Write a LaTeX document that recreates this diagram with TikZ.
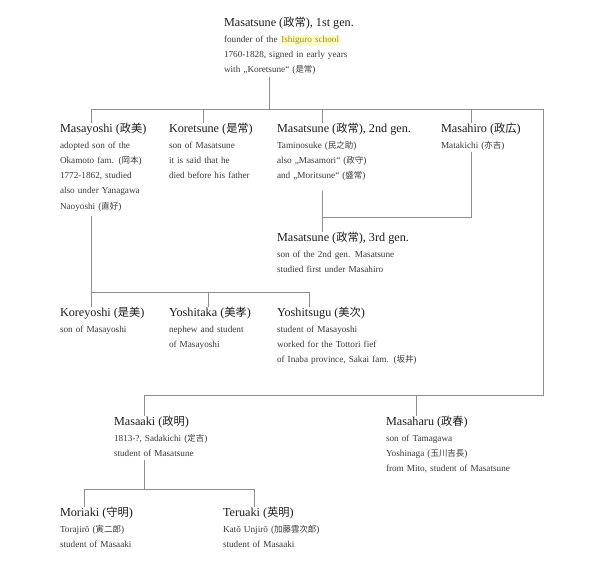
\documentclass[tikz,border=0pt]{standalone}
\usepackage{fontspec}
\setmainfont{Liberation Serif}
\newfontfamily\cjkfont[Scale=0.92]{Noto Sans CJK JP}
\newcommand\jpn[1]{{\cjkfont #1}}
\definecolor{linec}{HTML}{8E8E8E}
\definecolor{titlec}{HTML}{1E1E1E}
\definecolor{bodyc}{HTML}{3A3A3A}
\definecolor{hlback}{HTML}{FFFFC4}
\definecolor{hltext}{HTML}{9A8A22}
\newcommand\bodyf{\fontsize{9.2pt}{15.3pt}\selectfont}
\newcommand\ttl[1]{\leavevmode{\fontsize{12.2pt}{15.3pt}\selectfont\color{titlec}#1}\\[0.7pt]}
\newcommand\hlite[1]{{\setlength{\fboxsep}{0.6pt}\colorbox{hlback}{\textcolor{hltext}{#1}}}}
\tikzset{
  person/.style={anchor=base west, inner sep=0pt, outer sep=0pt, text width=190pt,
    align=left, font=\bodyf, text=bodyc},
  link/.style={draw=linec, line width=0.75pt}
}
\begin{document}
\begin{tikzpicture}[x=1pt,y=-1pt]
\useasboundingbox[fill=white] (0,0) rectangle (600,576);

\node[person] (top) at (224,26) {\ttl{Masatsune (\jpn{政常}), 1st gen.}
founder of the \hlite{Ishiguro school}\\
1760-1828, signed in early years\\
with „Koretsune“ (\jpn{是常})};

\node[person] (masayoshi) at (60,132) {\ttl{Masayoshi (\jpn{政美})}
adopted son of the\\
Okamoto fam. (\jpn{岡本})\\
1772-1862, studied\\
also under Yanagawa\\
Naoyoshi (\jpn{直好})};

\node[person] (koretsune) at (169,132) {\ttl{Koretsune (\jpn{是常})}
son of Masatsune\\
it is said that he\\
died before his father};

\node[person] (masatsune2) at (277,132) {\ttl{Masatsune (\jpn{政常}), 2nd gen.}
Taminosuke (\jpn{民之助})\\
also „Masamori“ (\jpn{政守})\\
and „Moritsune“ (\jpn{盛常})};

\node[person] (masahiro) at (441,132) {\ttl{Masahiro (\jpn{政広})}
Matakichi (\jpn{亦吉})};

\node[person] (masatsune3) at (277,241) {\ttl{Masatsune (\jpn{政常}), 3rd gen.}
son of the 2nd gen. Masatsune\\
studied first under Masahiro};

\node[person] (koreyoshi) at (60,316) {\ttl{Koreyoshi (\jpn{是美})}
son of Masayoshi};

\node[person] (yoshitaka) at (169,316) {\ttl{Yoshitaka (\jpn{美孝})}
nephew and student\\
of Masayoshi};

\node[person] (yoshitsugu) at (277,316) {\ttl{Yoshitsugu (\jpn{美次})}
student of Masayoshi\\
worked for the Tottori fief\\
of Inaba province, Sakai fam. (\jpn{坂井})};

\node[person] (masaaki) at (114,425) {\ttl{Masaaki (\jpn{政明})}
1813-?, Sadakichi (\jpn{定吉})\\
student of Masatsune};

\node[person] (masaharu) at (386,425) {\ttl{Masaharu (\jpn{政春})}
son of Tamagawa\\
Yoshinaga (\jpn{玉川吉長})\\
from Mito, student of Masatsune};

\node[person] (moriaki) at (60,516) {\ttl{Moriaki (\jpn{守明})}
Torajirō (\jpn{寅二郎})\\
student of Masaaki};

\node[person] (teruaki) at (223,516) {\ttl{Teruaki (\jpn{英明})}
Katō Unjirō (\jpn{加藤雲次郎})\\
student of Masaaki};

% junction points
\coordinate (t0) at (269,109);
\coordinate (bl) at (91,109);
\coordinate (br) at (543,109);
\coordinate (dk) at (203,109);
\coordinate (dm) at (322,109);
\coordinate (dh) at (471,109);
\coordinate (j1) at (322,217);
\coordinate (h1) at (471,217);
\coordinate (b2l) at (91,292);
\coordinate (b2m) at (208,292);
\coordinate (b2r) at (309,292);
\coordinate (rc) at (543,395);
\coordinate (b3l) at (144,395);
\coordinate (b3m) at (416,395);
\coordinate (b4l) at (84,489);
\coordinate (b4m) at (144,489);
\coordinate (b4r) at (254,489);

\draw[link, shorten <=2pt] (top.south -| t0) -- (t0);
\draw[link] (masayoshi.north -| bl) -- (bl) -- (br) -- (rc) -- (b3l) -- (masaaki.north -| b3l);
\draw[link] (koretsune.north -| dk) -- (dk);
\draw[link] (masatsune2.north -| dm) -- (dm);
\draw[link] (masahiro.north -| dh) -- (dh);
\draw[link, shorten <=10pt] (masatsune2.south -| j1) -- (masatsune3.north -| j1);
\draw[link, shorten <=2pt] (masahiro.south -| h1) -- (h1) -- (j1);
\draw[link, shorten <=5pt] (masayoshi.south -| b2l) -- (koreyoshi.north -| b2l);
\draw[link] (b2l) -- (b2r) -- (yoshitsugu.north -| b2r);
\draw[link] (b2m) -- (yoshitaka.north -| b2m);
\draw[link] (b3m) -- (masaharu.north -| b3m);
\draw[link, shorten <=4pt] (masaaki.south -| b4m) -- (b4m);
\draw[link] (moriaki.north -| b4l) -- (b4l) -- (b4r) -- (teruaki.north -| b4r);
\end{tikzpicture}
\end{document}
